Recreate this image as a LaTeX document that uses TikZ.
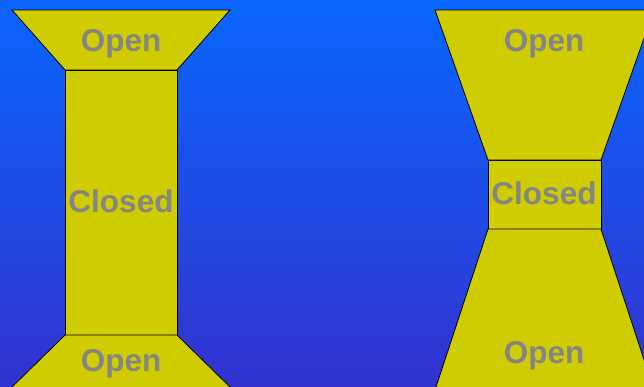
\documentclass[tikz,border=0pt]{standalone}
\usepackage{fontspec}
\setmainfont{Liberation Sans}
\definecolor{gvTop}{HTML}{0A66FF}
\definecolor{gvBottom}{HTML}{3232CF}
\definecolor{gvYellow}{HTML}{CFCC00}
\definecolor{gvGrey}{HTML}{858585}
\tikzset{
  gatePart/.style={fill=gvYellow, draw=black, line width=0.8pt, line join=miter},
  stateLabel/.style={font=\fontsize{31.5}{31.5}\selectfont\bfseries, text=gvGrey,
    inner sep=0pt, anchor=base},
}

\begin{document}
\begin{tikzpicture}[x=1pt,y=-1pt]
  \useasboundingbox (0,0) rectangle (644,386);
  \shade[top color=gvTop, bottom color=gvBottom] (0,0) rectangle (644,386);
  \clip (0,0) rectangle (644,386);

  % left gate: long closed section
  \draw[gatePart] (12,10) -- (230,10) -- (177,70) -- (65,70) -- cycle;
  \draw[gatePart] (65,70) rectangle (177,335);
  \draw[gatePart] (65,335) -- (177,335) -- (231,388) -- (11,388) -- cycle;

  \node[stateLabel] (leftOpenTop) at (121,51) {Open};
  \node[stateLabel] (leftClosed) at (121,212) {Closed};
  \node[stateLabel] (leftOpenBottom) at (121,371) {Open};

  % right gate: short closed section
  \draw[gatePart] (435,10) -- (654,10) -- (601,160) -- (488,160) -- cycle;
  \draw[gatePart] (488,160) rectangle (601,229);
  \draw[gatePart] (488,229) -- (601,229) -- (654,390) -- (435,390) -- cycle;

  \node[stateLabel] (rightOpenTop) at (544,51) {Open};
  \node[stateLabel] (rightClosed) at (544,204) {Closed};
  \node[stateLabel] (rightOpenBottom) at (544,363) {Open};
\end{tikzpicture}
\end{document}
